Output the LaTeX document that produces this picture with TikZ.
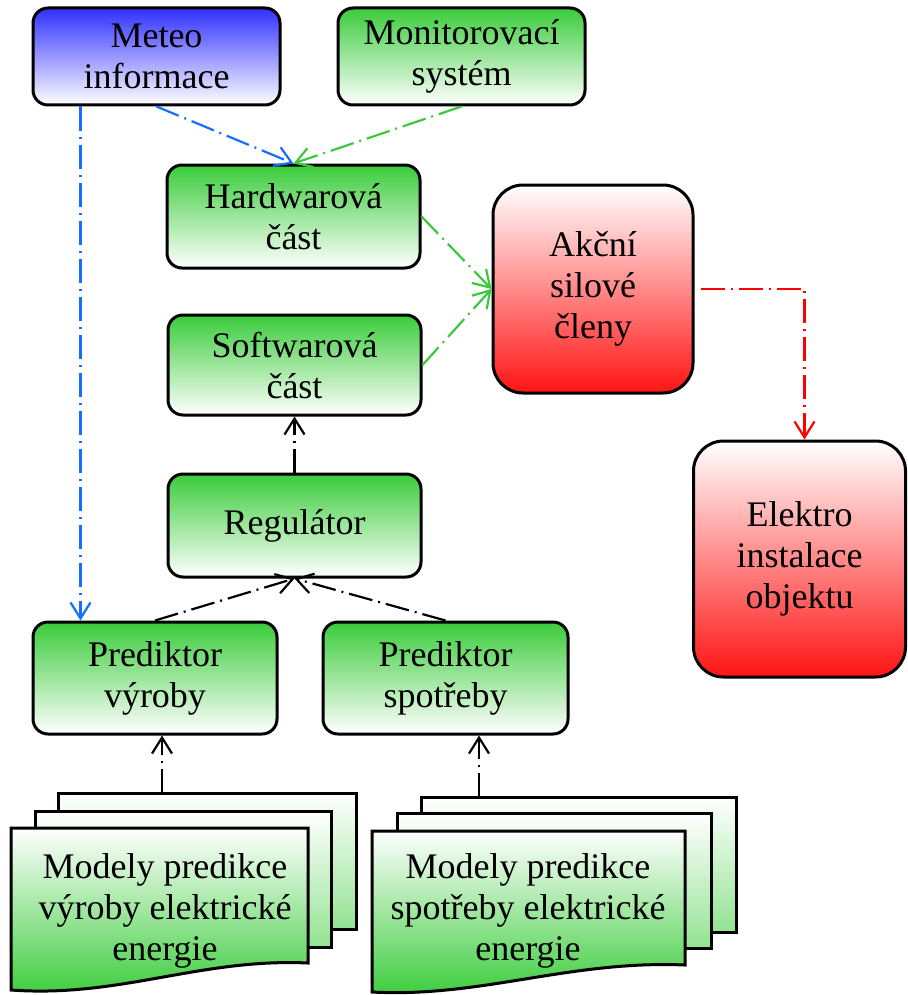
\documentclass[tikz,border=0pt]{standalone}
\usepackage{fontspec}
\setmainfont{Liberation Serif}
\usetikzlibrary{arrows.meta,calc}

\definecolor{boxgreen}{RGB}{58,204,58}
\definecolor{boxblue}{RGB}{48,48,255}
\definecolor{boxred}{RGB}{255,20,20}
\definecolor{lineblue}{RGB}{20,110,255}
\definecolor{linegreen}{RGB}{60,200,60}
\definecolor{linered}{RGB}{255,0,0}

\begin{document}
\begin{tikzpicture}[x=0.5pt,y=-0.5pt,
  font=\fontsize{18}{20.5}\selectfont,
  box/.style={draw=black, line width=1.5pt, rounded corners=7.5pt, align=center, inner sep=0pt},
  greenbox/.style={box, top color=boxgreen, bottom color=white},
  bluebox/.style={box, top color=boxblue, bottom color=white},
  redbox/.style={box, top color=white, bottom color=boxred, rounded corners=15pt},
  link/.style={line width=1.1pt, dash pattern=on 12pt off 3pt on 1pt off 3pt,
    -{Straight Barb[length=8pt,width=10pt]}},
  sheet/.style={draw=black, line width=1.5pt, top color=white, bottom color=boxgreen!55!white},
  frontsheet/.style={draw=black, line width=1.5pt, top color=white, bottom color=boxgreen},
]
\useasboundingbox (0,0) rectangle (907,995);

% upper row
\node[bluebox, minimum width=123.5pt, minimum height=48.5pt] (meteo) at (156.5,56.5) {Meteo\\informace};
\node[greenbox, minimum width=123.5pt, minimum height=48.5pt] (monitor) at (461.5,56.5) {Monitorovací\\systém};

% control chain
\node[greenbox, minimum width=126.5pt, minimum height=51.5pt] (hw) at (293.5,216.5) {Hardwarová\\část};
\node[greenbox, minimum width=126.5pt, minimum height=50pt] (sw) at (294.5,365) {Softwarová\\část};
\node[greenbox, minimum width=126.5pt, minimum height=51.5pt] (reg) at (294.5,525.5) {Regulátor};
\node[greenbox, minimum width=122pt, minimum height=56pt] (predv) at (155,678) {Prediktor\\výroby};
\node[greenbox, minimum width=122.5pt, minimum height=56pt] (preds) at (445.5,678) {Prediktor\\spotřeby};

% actuators and installation
\node[redbox, minimum width=100pt, minimum height=104pt] (akcni) at (593,289) {Akční\\silové\\členy};
\node[redbox, minimum width=106pt, minimum height=118pt] (elektro) at (799.5,559) {Elektro\\instalace\\objektu};

% stacked model documents (left)
\draw[sheet] (58,793) rectangle (356,929);
\draw[sheet] (35,811) rectangle (331,947);
\draw[frontsheet] (11,828) -- (308,828) -- (308,963)
  .. controls (200,958) and (120,998) .. (11,990) -- cycle;
\node[align=center] (docv) at (165,911) {Modely predikce\\výroby elektrické\\energie};
\coordinate (docvtop) at (162,793);

% stacked model documents (right)
\draw[sheet] (421,797) rectangle (736,932);
\draw[sheet] (397,813) rectangle (711,948);
\draw[frontsheet] (372,831) -- (685,831) -- (685,965)
  .. controls (570,960) and (480,998) .. (372,992) -- cycle;
\node[align=center] (docs) at (528,911) {Modely predikce\\spotřeby elektrické\\energie};
\coordinate (docstop) at (479,797);

% connectors
\draw[link, lineblue] (meteo.south) -- (hw.north);
\draw[link, linegreen] (monitor.south) -- (hw.north);
\draw[link, lineblue] ([xshift=24.5pt]meteo.south west) -- ([xshift=24.5pt]predv.north west);
\draw[link, linegreen] (hw.east) -- (akcni.west);
\draw[link, linegreen] (sw.east) -- (akcni.west);
\draw[link, linered] ([xshift=3pt]akcni.east) -| ([xshift=2.5pt]elektro.north);
\draw[link] (reg.north) -- (sw.south);
\draw[link] (predv.north) -- (reg.south);
\draw[link] (preds.north) -- (reg.south);
\draw[link] (docvtop) -- (docvtop |- predv.south);
\draw[link] (docstop) -- (docstop |- preds.south);
\end{tikzpicture}
\end{document}
